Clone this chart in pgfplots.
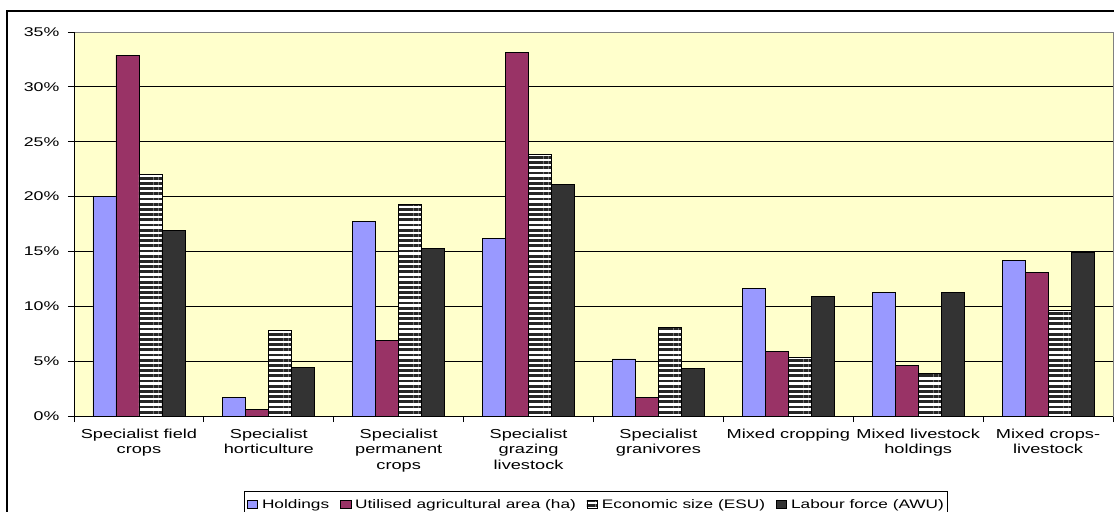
\documentclass[border=0pt]{standalone}
\usepackage{pgfplots}
\pgfplotsset{compat=1.18}
\usepackage{fontspec}
\setmainfont{Liberation Sans}[FakeStretch=1.4]
\usetikzlibrary{patterns.meta,calc}

\definecolor{holdc}{HTML}{9999FF}
\definecolor{uaac}{HTML}{993366}
\definecolor{awuc}{HTML}{333333}
\definecolor{bgc}{HTML}{FFFFCC}
\definecolor{framec}{HTML}{808080}

% shares by type of farming (%)
\pgfplotstableread{
x  hold  uaa   esu   awu
0  20.0  32.9  22.0  16.9
1  1.7   0.6   7.8   4.4
2  17.7  6.9   19.3  15.3
3  16.2  33.1  23.8  21.1
4  5.2   1.7   8.1   4.3
5  11.6  5.9   5.3   10.9
6  11.3  4.6   3.9   11.3
7  14.2  13.1  9.6   14.9
}\shares

\newcommand{\gap}{\rule{7pt}{0pt}}

\begin{document}
\begin{tikzpicture}
\begin{axis}[
  scale only axis, width=779.25pt, height=288pt,
  ybar=0pt, bar width=17.25pt,
  xmin=-0.5, xmax=7.5, ymin=0, ymax=35,
  axis background/.style={fill=bgc},
  axis line style={framec},
  ytick={0,5,...,35},
  yticklabels={0\%,5\%,10\%,15\%,20\%,25\%,30\%,35\%},
  ytick pos=left, xtick pos=bottom,
  tick align=outside, major tick length=4.5pt,
  tick style={black, line width=0.6pt},
  ymajorgrids, major grid style={black, line width=0.6pt},
  xtick={-0.5,0.5,...,7.5}, xticklabels={},
  extra x ticks={0,...,7},
  extra x tick style={major tick length=0pt},
  extra x tick labels={{Specialist field\\crops},{Specialist\\horticulture},{Specialist\\permanent\\crops},{Specialist\\grazing\\livestock},{Specialist\\granivores},{Mixed cropping},{Mixed livestock\\holdings},{Mixed crops-\\livestock}},
  xticklabel style={align=center, font=\fontsize{9.75}{11.8}\selectfont, yshift=-6pt},
  yticklabel style={font=\fontsize{9.5}{11}\selectfont, xshift=-3pt},
  legend columns=4,
  legend style={at={(0.5024,-0.1953)}, anchor=north, draw=black, fill=white,
    font=\fontsize{9.25}{11}\selectfont, inner ysep=4pt, inner xsep=1.5pt,
    nodes={inner xsep=1pt},
    /tikz/every odd column/.append style={column sep=2pt}},
  legend image code/.code={\draw[#1, draw=black, line width=0.5pt] (0pt,-3pt) rectangle (8pt,3pt);},
]
\addplot[draw=black, line width=0.6pt, fill=holdc] table[x=x,y=hold]{\shares};
\addplot[draw=black, line width=0.6pt, fill=uaac] table[x=x,y=uaa]{\shares};
\addplot[draw=black, line width=0.6pt, fill=white,
  postaction={pattern={Lines[angle=0,distance=3.9pt,line width=2pt]}, pattern color=black!85}]
  table[x=x,y=esu]{\shares};
\addplot[draw=black, line width=0.6pt, fill=awuc] table[x=x,y=awu]{\shares};
\legend{Holdings\gap,Utilised agricultural area (ha)\gap,Economic size (ESU)\gap,Labour force (AWU)}
\draw[black, line width=0.6pt] (rel axis cs:0,0) -- (rel axis cs:0,1);
\draw[black, line width=0.6pt] (rel axis cs:0,0) -- (rel axis cs:1,0);
\coordinate (sw) at (rel axis cs:0,0);
\end{axis}
\draw[black, line width=0.9pt] ($(sw)+(-50.25pt,303.75pt)$) rectangle ($(sw)+(800pt,-90pt)$);
\pgfresetboundingbox
\path[use as bounding box] ($(sw)+(-55.5pt,-71.25pt)$) rectangle ($(sw)+(780pt,312pt)$);
\end{tikzpicture}
\end{document}
